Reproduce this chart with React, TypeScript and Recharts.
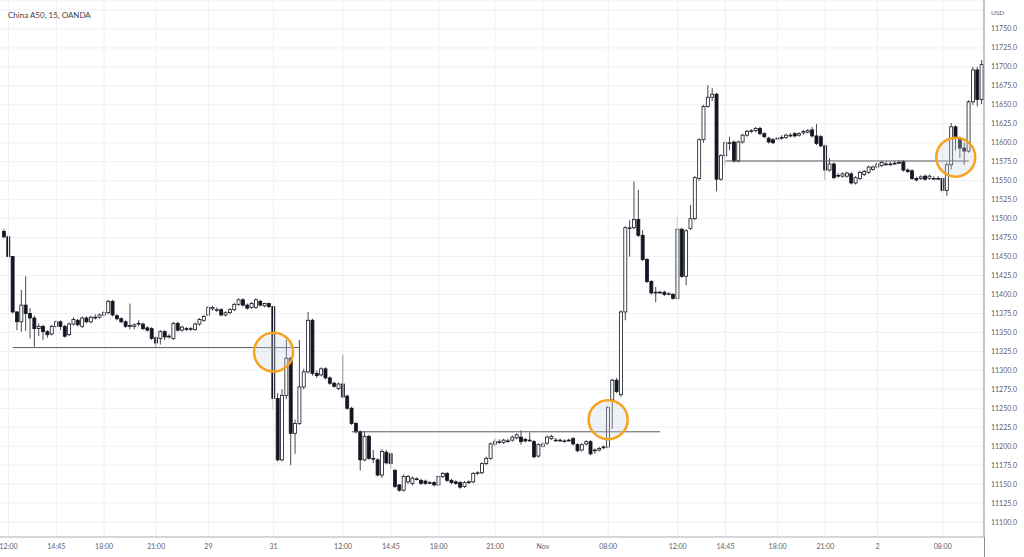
import React from "react";
import {
  ComposedChart,
  Bar,
  XAxis,
  YAxis,
  CartesianGrid,
  ReferenceLine,
  ReferenceDot,
} from "recharts";

// China A50, 15 min candles
const open = [
  11483, 11476, 11450, 11377, 11364, 11386, 11375, 11369, 11355, 11358,
  11351, 11348, 11358, 11364, 11358, 11347, 11361, 11366, 11358, 11369,
  11364, 11370, 11370, 11373, 11376, 11391, 11372, 11368, 11364, 11358,
  11358, 11361, 11361, 11356, 11355, 11343, 11342, 11351, 11344, 11342,
  11362, 11353, 11355, 11354, 11354, 11361, 11366, 11373, 11381, 11380,
  11380, 11373, 11376, 11380, 11387, 11393, 11386, 11383, 11383, 11391,
  11385, 11388, 11384, 11263, 11182, 11267, 11316, 11217, 11230, 11278,
  11298, 11366, 11296, 11294, 11302, 11290, 11283, 11276, 11282, 11266,
  11250, 11230, 11219, 11182, 11213, 11184, 11182, 11162, 11192, 11190,
  11168, 11149, 11142, 11153, 11151, 11157, 11155, 11154, 11152, 11152,
  11149, 11160, 11164, 11155, 11153, 11152, 11147, 11152, 11153, 11164,
  11165, 11177, 11184, 11203, 11206, 11205, 11207, 11208, 11211, 11212,
  11209, 11208, 11206, 11187, 11200, 11204, 11210, 11208, 11208, 11207,
  11208, 11210, 11202, 11195, 11203, 11206, 11195, 11195, 11199, 11199,
  11261, 11287, 11268, 11377, 11488, 11488, 11499, 11478, 11446, 11417,
  11403, 11403, 11403, 11401, 11400, 11395, 11486, 11424, 11487, 11500,
  11553, 11604, 11648, 11660, 11664, 11552, 11583, 11600, 11601, 11576,
  11601, 11610, 11616, 11616, 11619, 11612, 11606, 11604, 11606, 11607,
  11607, 11610, 11612, 11610, 11613, 11614, 11617, 11609, 11608, 11596,
  11564, 11572, 11557, 11556, 11556, 11559, 11547, 11553, 11558, 11561,
  11565, 11568, 11570, 11572, 11572, 11573, 11574, 11575, 11564, 11563,
  11553, 11553, 11556, 11553, 11553, 11553, 11553, 11537, 11571, 11621,
  11606, 11593, 11589, 11654, 11696, 11657,
];
const high = [
  11486, 11480, 11451, 11378, 11406, 11424, 11382, 11372, 11362, 11360,
  11353, 11360, 11366, 11366, 11360, 11363, 11370, 11368, 11371, 11371,
  11372, 11374, 11375, 11378, 11393, 11393, 11374, 11370, 11366, 11388,
  11362, 11366, 11363, 11358, 11357, 11345, 11353, 11353, 11348, 11364,
  11364, 11359, 11357, 11357, 11363, 11369, 11373, 11385, 11385, 11383,
  11382, 11378, 11382, 11389, 11395, 11395, 11388, 11390, 11395, 11393,
  11389, 11389, 11386, 11270, 11275, 11340, 11318, 11235, 11340, 11302,
  11377, 11368, 11300, 11304, 11304, 11292, 11285, 11284, 11320, 11268,
  11252, 11232, 11221, 11220, 11215, 11195, 11184, 11196, 11195, 11192,
  11170, 11150, 11163, 11162, 11160, 11159, 11157, 11156, 11154, 11154,
  11162, 11166, 11166, 11157, 11155, 11154, 11154, 11155, 11166, 11167,
  11179, 11186, 11205, 11210, 11209, 11210, 11210, 11214, 11217, 11221,
  11211, 11218, 11208, 11204, 11205, 11214, 11215, 11211, 11210, 11209,
  11210, 11212, 11204, 11204, 11208, 11208, 11197, 11199, 11201, 11254,
  11289, 11290, 11379, 11490, 11498, 11549, 11538, 11485, 11448, 11419,
  11410, 11405, 11405, 11403, 11402, 11503, 11488, 11486, 11518, 11556,
  11606, 11650, 11676, 11672, 11666, 11585, 11602, 11608, 11603, 11603,
  11612, 11617, 11618, 11621, 11621, 11614, 11608, 11606, 11608, 11610,
  11612, 11613, 11614, 11614, 11617, 11618, 11621, 11625, 11610, 11598,
  11580, 11574, 11560, 11561, 11562, 11561, 11556, 11563, 11564, 11570,
  11570, 11574, 11576, 11575, 11575, 11576, 11577, 11577, 11566, 11565,
  11555, 11557, 11558, 11558, 11556, 11556, 11555, 11574, 11626, 11623,
  11608, 11600, 11656, 11700, 11700, 11709,
];
const low = [
  11474, 11449, 11375, 11353, 11351, 11352, 11342, 11331, 11345, 11340,
  11343, 11346, 11356, 11353, 11343, 11345, 11359, 11358, 11356, 11362,
  11362, 11367, 11368, 11371, 11374, 11371, 11366, 11362, 11356, 11354,
  11354, 11358, 11353, 11351, 11340, 11330, 11334, 11340, 11342, 11340,
  11351, 11351, 11352, 11352, 11352, 11359, 11364, 11371, 11379, 11377,
  11371, 11371, 11374, 11378, 11385, 11384, 11380, 11381, 11381, 11384,
  11383, 11382, 11248, 11180, 11180, 11262, 11175, 11190, 11228, 11275,
  11296, 11293, 11290, 11292, 11288, 11281, 11277, 11274, 11263, 11248,
  11228, 11217, 11168, 11180, 11182, 11178, 11160, 11158, 11176, 11170,
  11145, 11140, 11140, 11150, 11148, 11155, 11149, 11149, 11150, 11147,
  11147, 11158, 11153, 11150, 11149, 11144, 11145, 11150, 11151, 11162,
  11163, 11175, 11182, 11200, 11203, 11203, 11205, 11206, 11209, 11202,
  11205, 11206, 11184, 11185, 11198, 11202, 11208, 11206, 11206, 11205,
  11206, 11201, 11192, 11193, 11201, 11188, 11190, 11193, 11196, 11197,
  11223, 11270, 11265, 11366, 11450, 11486, 11476, 11444, 11415, 11400,
  11390, 11401, 11398, 11399, 11393, 11393, 11422, 11412, 11485, 11498,
  11550, 11600, 11646, 11655, 11536, 11550, 11570, 11590, 11574, 11574,
  11599, 11608, 11613, 11614, 11610, 11606, 11599, 11598, 11603, 11604,
  11605, 11607, 11607, 11608, 11611, 11612, 11607, 11597, 11594, 11551,
  11562, 11552, 11554, 11554, 11554, 11545, 11545, 11551, 11556, 11559,
  11563, 11566, 11568, 11570, 11570, 11571, 11572, 11562, 11560, 11551,
  11549, 11551, 11550, 11551, 11551, 11551, 11534, 11530, 11565, 11590,
  11580, 11571, 11587, 11650, 11648, 11651,
];
const close = [
  11476, 11450, 11377, 11364, 11386, 11375, 11369, 11355, 11358, 11351,
  11347, 11358, 11364, 11358, 11345, 11361, 11367, 11360, 11369, 11364,
  11370, 11370, 11373, 11376, 11391, 11373, 11368, 11364, 11358, 11359,
  11360, 11362, 11355, 11353, 11342, 11336, 11351, 11344, 11345, 11362,
  11353, 11357, 11354, 11355, 11361, 11367, 11371, 11383, 11383, 11380,
  11373, 11376, 11380, 11387, 11393, 11386, 11382, 11388, 11393, 11386,
  11388, 11384, 11263, 11182, 11267, 11316, 11217, 11230, 11278, 11298,
  11366, 11296, 11293, 11302, 11290, 11283, 11279, 11282, 11265, 11250,
  11230, 11219, 11182, 11213, 11184, 11183, 11162, 11193, 11178, 11177,
  11147, 11142, 11160, 11160, 11158, 11157, 11151, 11151, 11152, 11149,
  11160, 11164, 11155, 11152, 11151, 11146, 11152, 11153, 11164, 11165,
  11177, 11184, 11203, 11206, 11206, 11208, 11207, 11212, 11215, 11206,
  11207, 11208, 11186, 11202, 11203, 11212, 11213, 11208, 11208, 11207,
  11208, 11203, 11194, 11202, 11206, 11190, 11195, 11197, 11199, 11251,
  11287, 11272, 11377, 11488, 11488, 11499, 11478, 11446, 11417, 11402,
  11403, 11403, 11400, 11401, 11395, 11486, 11424, 11484, 11500, 11554,
  11604, 11648, 11660, 11664, 11552, 11583, 11600, 11600, 11576, 11601,
  11610, 11615, 11616, 11619, 11612, 11608, 11601, 11600, 11606, 11607,
  11610, 11610, 11609, 11612, 11615, 11616, 11609, 11599, 11596, 11564,
  11572, 11554, 11557, 11559, 11560, 11547, 11554, 11561, 11562, 11568,
  11568, 11572, 11574, 11572, 11572, 11573, 11574, 11564, 11562, 11553,
  11551, 11555, 11552, 11556, 11553, 11553, 11537, 11571, 11621, 11606,
  11593, 11589, 11654, 11696, 11657, 11703,
];

// time axis labels, by candle index
const tickIndex = [1, 12, 23, 35, 47, 62, 78, 89, 100, 113, 124, 139, 155, 166, 178, 189, 201, 216];
const tickText = ["12:00", "14:45", "18:00", "21:00", "29", "31", "12:00", "14:45", "18:00", "21:00", "Nov", "08:00", "12:00", "14:45", "18:00", "21:00", "2", "08:00"];

const priceTicks = [
  11100, 11125, 11150, 11175, 11200, 11225, 11250, 11275, 11300, 11325,
  11350, 11375, 11400, 11425, 11450, 11475, 11500, 11525, 11550, 11575,
  11600, 11625, 11650, 11675, 11700, 11725, 11750, 11775,
];

// drawn levels and highlight circles
const levelFrom = [2, 80, 166];
const levelTo = [68, 151, 222];
const levelPrice = [11330, 11219, 11576];
const markAt = [62, 139, 219];
const markPrice = [11324, 11235, 11581];

const data = open.map((o, i) => ({ i, o, h: high[i], l: low[i], c: close[i] }));

const INK = "#131722";

function Candle(props: any) {
  const { x, y, width, height, payload } = props;
  if (!payload) return null;
  const { o, h, l, c } = payload;
  const top = Math.min(y, y + height);
  const bot = Math.max(y, y + height);
  const k = (bot - top) / (h - l);
  const py = (v: number) => top + (h - v) * k;
  const cx = x + width / 2;
  const up = c >= o;
  const yo = py(o);
  const yc = py(c);
  const bt = Math.min(yo, yc);
  const bh = Math.max(Math.abs(yo - yc), 0.8);
  return (
    <g>
      <line x1={cx} x2={cx} y1={top} y2={bot} stroke="#333" strokeWidth={0.9} />
      <rect
        x={cx - 1.5}
        y={bt}
        width={3}
        height={bh}
        fill={up ? "#ffffff" : INK}
        stroke={INK}
        strokeWidth={0.8}
      />
    </g>
  );
}

const fmtTime = (v: number) => {
  const k = tickIndex.indexOf(v);
  return k >= 0 ? tickText[k] : "";
};

const fmtPrice = (v: number) => (v === 11775 ? "" : v.toFixed(1));

export default function App() {
  return (
    <div style={{ position: "relative", width: 1024, height: 557, background: "#fff", fontFamily: "Lato" }}>
      <style>{"body{margin:0}"}</style>
      <ComposedChart
        width={1024}
        height={557}
        data={data}
        margin={{ top: 0, right: 0, bottom: 0, left: 0 }}
      >
        <CartesianGrid vertical={false} stroke="#eef0f3" strokeWidth={1} />
        {tickIndex.map((t) => (
          <ReferenceLine key={"v" + t} x={t} stroke="#eef0f3" strokeWidth={1} />
        ))}
        <XAxis
          dataKey="i"
          type="category"
          ticks={tickIndex}
          interval={0}
          tickFormatter={fmtTime}
          height={20}
          padding={{ left: 2, right: 0 }}
          tickLine={false}
          tickSize={6}
          tickMargin={1}
          axisLine={{ stroke: "#c9cbd0", strokeWidth: 1.5 }}
          tick={{ fill: "#5d606b", fontSize: 7, fontFamily: "Lato" }}
        />
        <YAxis
          orientation="right"
          width={40}
          domain={[11080.3, 11788.2]}
          allowDataOverflow
          ticks={priceTicks}
          interval={0}
          tickFormatter={fmtPrice}
          tickLine={false}
          tickSize={6}
          tickMargin={1}
          axisLine={{ stroke: "#8a8d96" }}
          tick={{ fill: "#5d606b", fontSize: 7, fontFamily: "Lato", textAnchor: "start" }}
        />
        <Bar
          dataKey={(d: any) => [d.l, d.h]}
          shape={<Candle />}
          isAnimationActive={false}
        />
        {levelPrice.map((p, k) => (
          <ReferenceLine
            key={"l" + k}
            segment={[
              { x: levelFrom[k], y: p },
              { x: levelTo[k], y: p },
            ]}
            stroke="#5a5a5a"
            strokeWidth={1}
          />
        ))}
        {markPrice.map((p, k) => (
          <ReferenceDot
            key={"m" + k}
            x={markAt[k]}
            y={p}
            r={19.5}
            fill="rgba(200,208,222,0.3)"
            stroke="#f7a21b"
            strokeWidth={2.5}
          />
        ))}
      </ComposedChart>
      <div
        style={{
          position: "absolute",
          left: 8,
          top: 10,
          fontSize: 8,
          color: "#3c3f47",
          fontFamily: "Lato",
          whiteSpace: "nowrap",
        }}
      >
        China A50, 15, OANDA
      </div>
      <div
        style={{
          position: "absolute",
          left: 991,
          top: 9,
          fontSize: 6.5,
          color: "#5d606b",
          fontFamily: "Lato",
        }}
      >
        USD
      </div>
      <div style={{ position: "absolute", left: 984, top: 537, width: 1, height: 20, background: "#8a8d96" }} />
    </div>
  );
}
